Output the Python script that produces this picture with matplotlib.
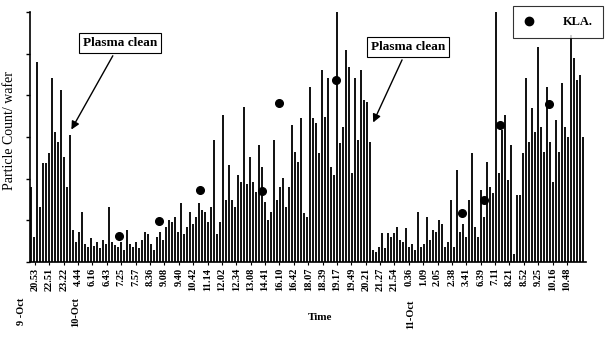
import numpy as np
import matplotlib
matplotlib.use("Agg")
import matplotlib.pyplot as plt

counts = [
    75, 25, 200, 55, 99, 99, 109, 184, 130, 120,
    172, 105, 75, 127, 32, 20, 30, 50, 18, 15,
    24, 16, 20, 14, 22, 18, 55, 20, 17, 15,
    20, 12, 32, 18, 15, 20, 14, 22, 30, 28,
    18, 12, 25, 30, 22, 35, 42, 40, 45, 30,
    59, 28, 35, 50, 38, 45, 59, 52, 50, 40,
    55, 122, 28, 40, 147, 62, 97, 62, 55, 87,
    80, 155, 78, 105, 80, 70, 117, 95, 60, 42,
    50, 122, 62, 75, 84, 55, 75, 137, 110, 100,
    144, 49, 45, 175, 144, 139, 109, 192, 145, 184,
    95, 87, 250, 119, 135, 212, 195, 89, 184, 122,
    192, 162, 160, 120, 12, 10, 15, 29, 14, 29,
    25, 29, 35, 22, 20, 34, 15, 18, 12, 50,
    15, 18, 45, 22, 32, 30, 42, 38, 15, 20,
    62, 15, 92, 30, 38, 25, 62, 109, 35, 25,
    72, 45, 100, 75, 69, 250, 89, 132, 147, 82,
    117, 8, 67, 67, 109, 184, 120, 154, 130, 215,
    135, 110, 175, 120, 80, 142, 110, 179, 135, 125,
    227, 204, 182, 187, 125,
]

# KLA measurements (bar index, count)
kla_idx = [29.3, 42.7, 56.3, 77.0, 82.7, 101.7, 143.7, 151.0, 156.3, 172.7]
kla_val = [26, 41, 72, 71, 159, 182, 49, 62, 137, 158]

time_labels = [
    "20.53", "22.51", "23.22", "4.44", "6.16", "6.43", "7.25", "7.57",
    "8.36", "9.08", "9.40", "10.42", "11.14", "12.02", "12.34", "13.08",
    "14.41", "16.10", "16.42", "18.07", "18.39", "19.17", "19.49", "20.21",
    "21.27", "21.54", "0.36", "1.09", "2.05", "2.38", "3.41", "6.39",
    "7.11", "8.21", "8.52", "9.25", "10.16", "10.48",
]
day_labels = ["9 -Oct", "10-Oct", "11-Oct"]

W, H = 608, 345
serif = ["Liberation Serif", "DejaVu Serif"]
plt.rcParams["font.family"] = serif

fig = plt.figure(figsize=(W / 100, H / 100), dpi=100)
ax = fig.add_axes([30 / W, (H - 262) / H, 556 / W, 250 / H])

x = np.arange(len(counts))
ax.bar(x, counts, width=0.85, color="#151515", linewidth=0)
ax.plot(kla_idx, kla_val, "o", color="black", ms=5.5, zorder=3)

ax.set_xlim(-0.33, 185)
ax.set_ylim(0, 250)
for s in ["top", "right"]:
    ax.spines[s].set_visible(False)
ax.spines["left"].set_linewidth(1.2)
ax.spines["bottom"].set_linewidth(1.2)

ax.set_yticks(np.linspace(0, 250, 7))
ax.set_yticklabels([])
ax.tick_params(axis="y", direction="out", length=3, width=1)

ax.set_xticks(np.linspace(1.33, 178.67, len(time_labels)))
ax.set_xticklabels(time_labels, rotation=90, fontsize=7.5, fontweight="bold")
ax.tick_params(axis="x", direction="out", length=2, width=0.8, pad=2)


def px(xp, yp):
    return xp / W, 1 - yp / H


# date labels under the time labels
for lab, (xp, yp) in zip(day_labels, [(22, 298), (76, 297), (411, 300)]):
    fig.text(*px(xp, yp), lab, rotation=90, ha="center", va="top",
             fontsize=7.5, fontweight="bold")

fig.text(*px(320, 318), "Time", ha="center", va="center",
         fontsize=8, fontweight="bold")
fig.text(*px(10, 131), "Particle Count/ wafer", rotation=90,
         ha="center", va="center", fontsize=10)

box = dict(boxstyle="square,pad=0.3", fc="white", ec="black", lw=0.8)
arrow = dict(arrowstyle="-|>", color="black", lw=1.0, mutation_scale=12)
ax.annotate("Plasma clean", xy=px(70, 132), xycoords="figure fraction",
            xytext=px(120, 43), textcoords="figure fraction",
            ha="center", va="center", fontsize=9.5, fontweight="bold",
            bbox=box, arrowprops=arrow)
ax.annotate("Plasma clean", xy=px(372, 125), xycoords="figure fraction",
            xytext=px(408, 47), textcoords="figure fraction",
            ha="center", va="center", fontsize=9.5, fontweight="bold",
            bbox=box, arrowprops=arrow)

# KLA legend box
leg = ax.legend([plt.Line2D([], [], marker="o", ls="", color="black", ms=6)],
                ["KLA."], loc="upper left",
                bbox_to_anchor=(513 / W, 1 - 6 / H), bbox_transform=fig.transFigure,
                frameon=True, fancybox=False, edgecolor="black",
                prop={"family": serif, "size": 9, "weight": "bold"},
                borderpad=0.8, handletextpad=2.2, handlelength=1.0,
                borderaxespad=0)
leg.get_frame().set_linewidth(0.8)

fig.savefig("out.png", dpi=100)
